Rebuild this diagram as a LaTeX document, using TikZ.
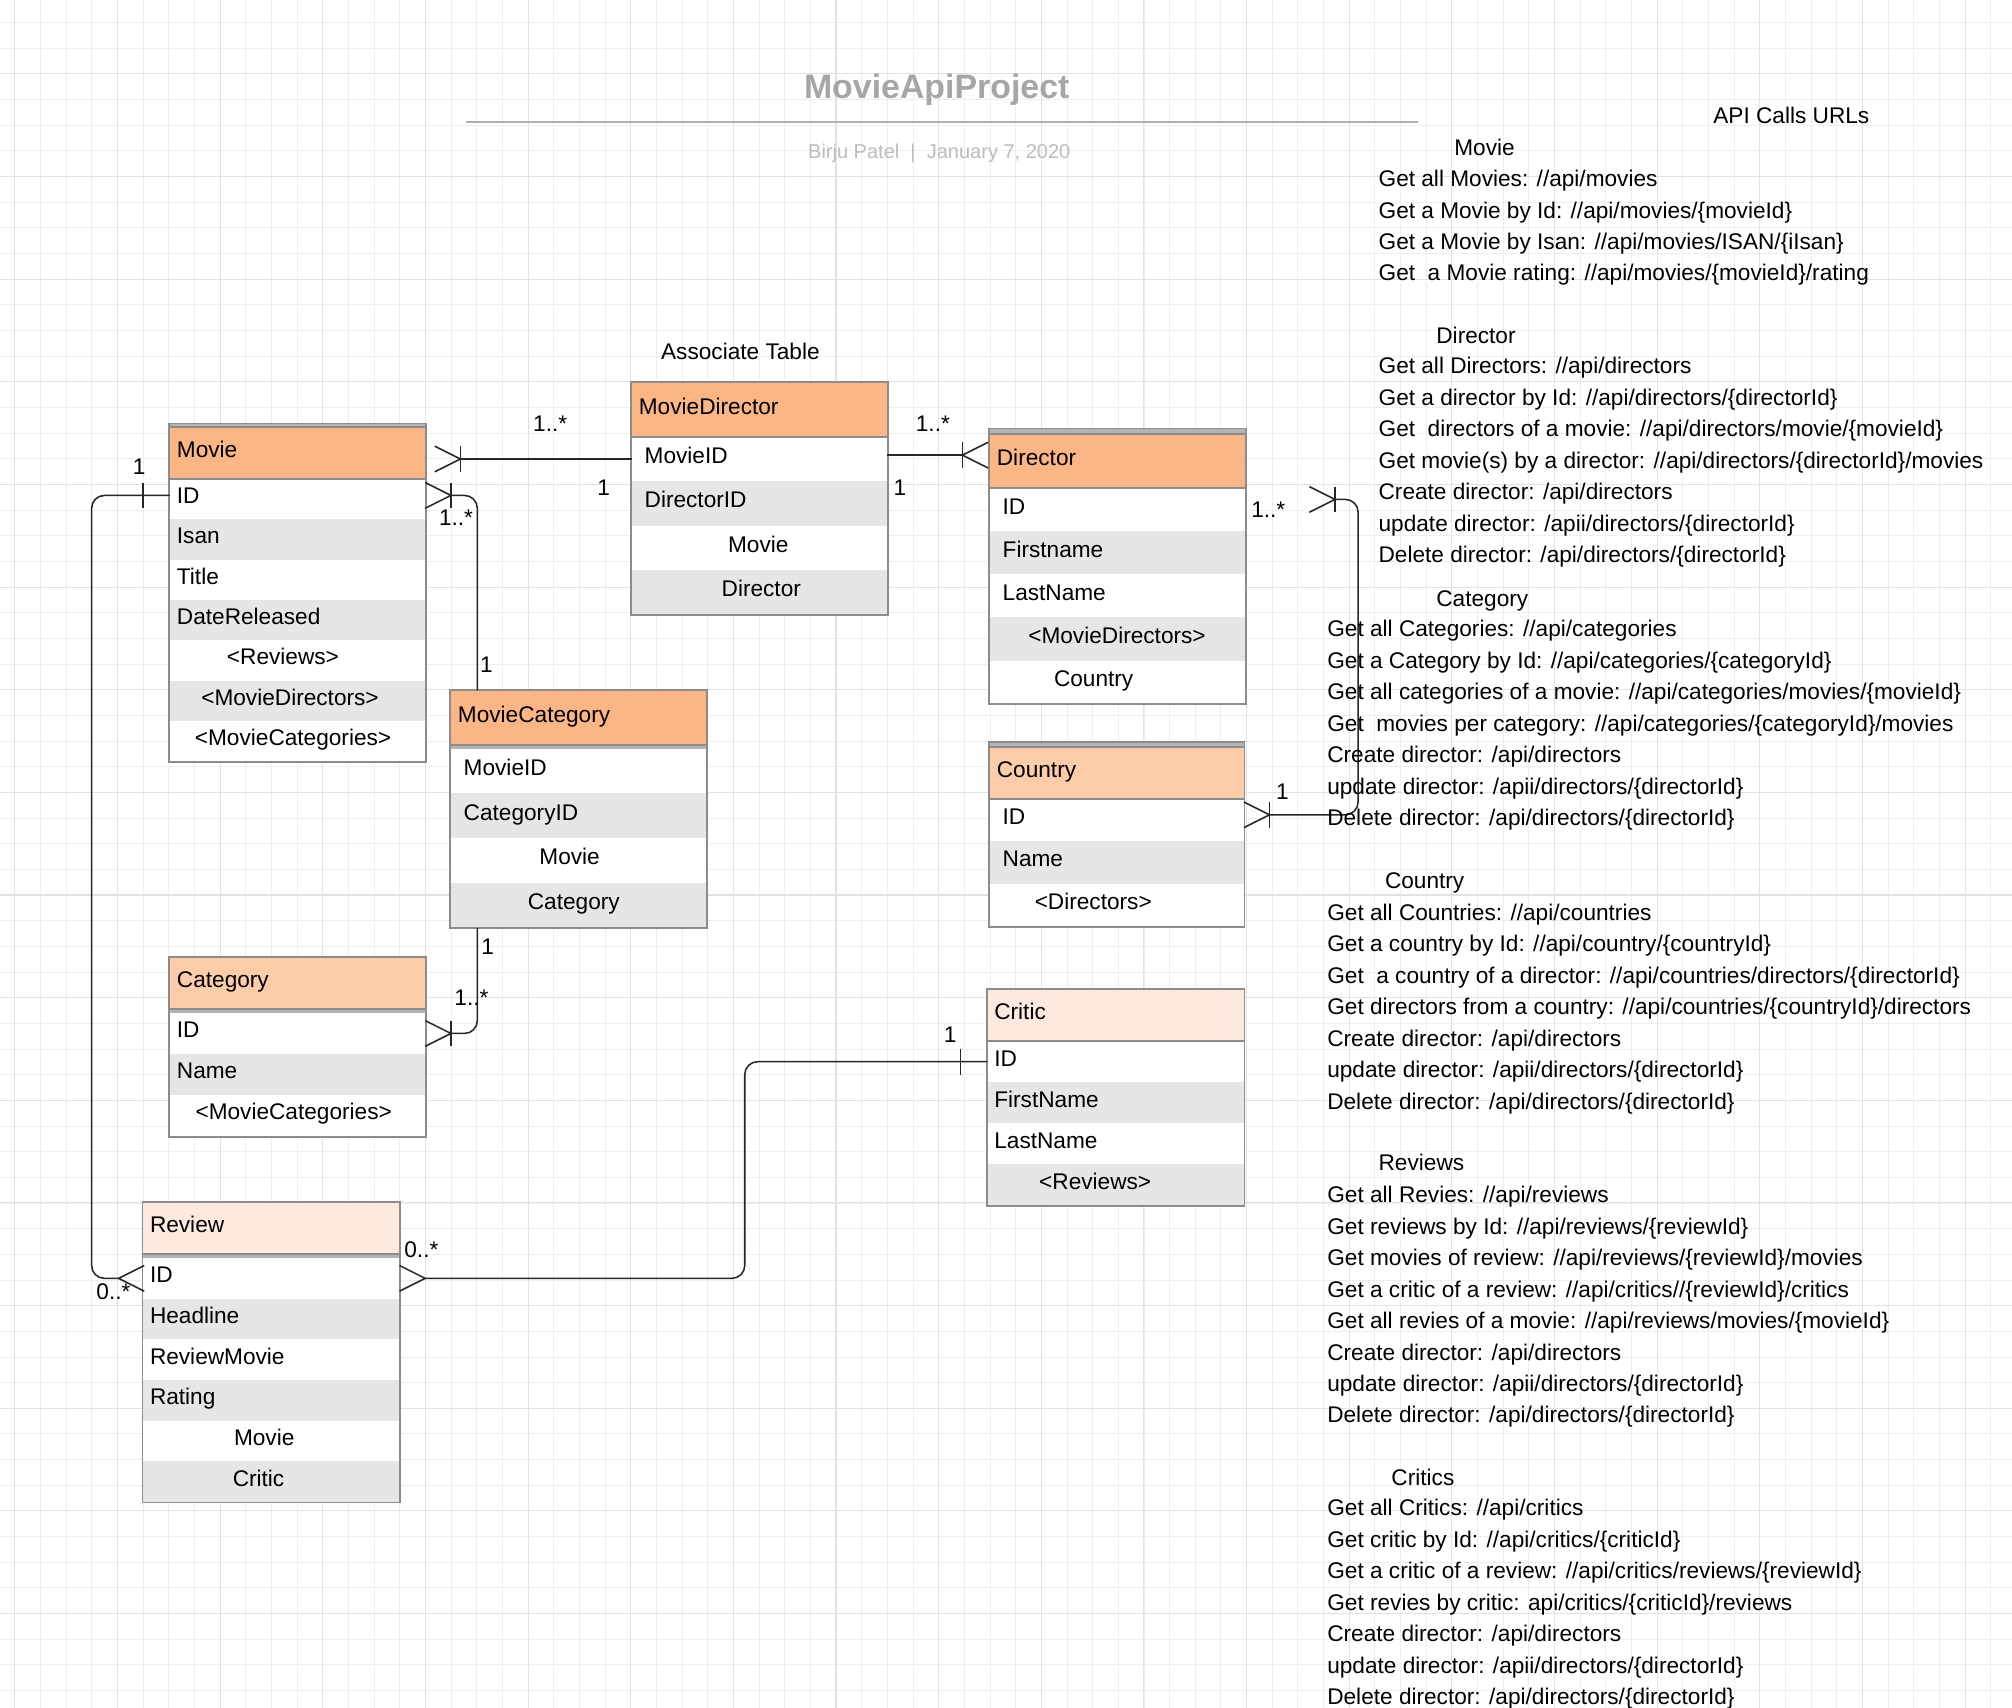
\documentclass[tikz,border=0pt]{standalone}
\usepackage{fontspec}
\setmainfont{Liberation Sans}
\usetikzlibrary{matrix, positioning, calc}
\definecolor{hdrA}{HTML}{FCB584}
\definecolor{hdrB}{HTML}{FDCCA8}
\definecolor{hdrC}{HTML}{FDE9DD}
\definecolor{rowgray}{HTML}{E6E6E6}
\definecolor{boxgray}{HTML}{8C8C8C}
\definecolor{bandgray}{HTML}{B4B4B4}
\definecolor{gridminor}{HTML}{EEEEEE}
\definecolor{gridmajor}{HTML}{E2E2E2}
\definecolor{titlegray}{HTML}{A6A6A6}
\definecolor{bylinegray}{HTML}{BDBDBD}
\newcommand{\colpad}[1]{\hspace*{#1pt}}
\tikzset{%
  grid minor/.style={draw=gridminor, line width=0.35pt},
  grid major/.style={draw=gridmajor, line width=0.4pt},
  edge/.style={draw=black!85, line width=0.6pt},
  link/.style={edge, rounded corners=5pt},
  boxline/.style={draw=boxgray, line width=0.7pt},
  api/.style={anchor=west, inner sep=0pt, text height=6.4pt, text depth=0pt},
  card/.style={api, anchor=center},
  titletext/.style={inner sep=0pt, text=titlegray, text height=9.5pt, text depth=0pt, font=\fontsize{13.2}{16}\selectfont\bfseries},
  byline/.style={inner sep=0pt, text=bylinegray, text height=5.6pt, text depth=0pt, font=\fontsize{7.8}{9}\selectfont},
  titlerule/.style={draw=titlegray!90, line width=1pt},
  table nodes/.style={
    rectangle,
    fill=white,
    align=left,
    text height=6.4pt,
    text depth=3pt,
    inner xsep=2.75pt,
    inner ysep=0pt,
    outer sep=0pt
  },
  table/.style={
    matrix of nodes,
    row sep=0pt,
    column sep=0pt,
    inner sep=0pt,
    fill=bandgray,
    anchor=north west,
    row 3/.style={nodes={fill=rowgray}},
    row 5/.style={nodes={fill=rowgray}},
    row 7/.style={nodes={fill=rowgray}},
    nodes={table nodes}
  },
  table head/.style 2 args={row 1/.style={nodes={fill=#1, minimum height=#2}}},
  many/.pic={\draw[edge] (-20,-10) -- (0,0) -- (-20,10);},
  one/.pic={\draw[edge] (0,-10) -- (0,10);}
}
\begin{document}
\begin{tikzpicture}[x=0.5pt, y=-0.5pt, font=\fontsize{8.82}{11}\selectfont]
  \useasboundingbox (0,0) rectangle (1568,1331);
  \fill[white] (0,0) rectangle (1568,1331);

  % background grid
  \foreach \gx in {11.5,31.5,...,1568} \draw[grid minor] (\gx,0) -- (\gx,1331);
  \foreach \gy in {17.5,37.5,...,1331} \draw[grid minor] (0,\gy) -- (1568,\gy);
  \foreach \gx in {11.5,91.5,...,1568} \draw[grid major] (\gx,0) -- (\gx,1331);
  \foreach \gy in {57.5,137.5,...,1331} \draw[grid major] (0,\gy) -- (1568,\gy);

  % title block
  \node[titletext] (title) at (730,67) {MovieApiProject};
  \draw[titlerule] (363,95) -- (1105,95);
  \node[byline] (byline) at (732,118) {Birju Patel\ \ |\ \ January 7, 2020};

  \node[card] (assoc) at (577,274) {Associate Table};

  % entities
  \matrix[table, table head={hdrA}{20pt}, nodes={text width=94pt, minimum height=15.7pt}] (movie) at (132,333) {
    Movie \\
    ID \\
    Isan \\
    Title \\
    DateReleased \\
    \colpad{19.5}<Reviews> \\
    \colpad{9.5}<MovieDirectors> \\
    \colpad{7}<MovieCategories> \\
  };

  \matrix[table, table head={hdrA}{21pt}, nodes={text width=94pt, minimum height=17.3pt}] (mdir) at (492,298) {
    MovieDirector \\
    \colpad{2.25}MovieID \\
    \colpad{2.25}DirectorID \\
    \colpad{34.75}Movie \\
    \colpad{32.25}Director \\
  };

  \matrix[table, table head={hdrA}{21pt}, nodes={text width=94pt, minimum height=16.8pt}] (dir) at (771,338) {
    Director \\
    \colpad{2.25}ID \\
    \colpad{2.25}Firstname \\
    \colpad{2.25}LastName \\
    \colpad{12.25}<MovieDirectors> \\
    \colpad{22.25}Country \\
  };

  \matrix[table, table head={hdrA}{21pt}, nodes={text width=94pt, minimum height=17.45pt}] (mcat) at (351,538) {
    MovieCategory \\[1.5pt]
    \colpad{2.25}MovieID \\
    \colpad{2.25}CategoryID \\
    \colpad{31.75}Movie \\
    \colpad{27.25}Category \\
  };

  \matrix[table, table head={hdrB}{20pt}, nodes={text width=94pt, minimum height=16pt}] (cat) at (132,746) {
    Category \\[1.5pt]
    ID \\
    Name \\
    \colpad{7.25}<MovieCategories> \\
  };

  \matrix[table, table head={hdrB}{20pt}, nodes={text width=93.5pt, minimum height=16.6pt}] (ctry) at (771,582) {
    Country \\
    \colpad{2.25}ID \\
    \colpad{2.25}Name \\
    \colpad{14.75}<Directors> \\
  };

  \matrix[table, table head={hdrC}{20pt}, nodes={text width=94.5pt, minimum height=16pt}] (crit) at (769,771) {
    Critic \\
    ID \\
    FirstName \\
    LastName \\
    \colpad{17.5}<Reviews> \\
  };

  \matrix[table, table head={hdrC}{20pt}, nodes={text width=94.5pt, minimum height=15.85pt}] (rev) at (111,937) {
    Review \\[1.5pt]
    ID \\
    Headline \\
    ReviewMovie \\
    Rating \\
    \colpad{32.75}Movie \\
    \colpad{32.25}Critic \\
  };

  % outlines and header edges
  \foreach \tbl in {movie,mdir,dir,mcat,cat,ctry,crit,rev} {
    \draw[boxline] (\tbl.north west) rectangle (\tbl.south east);
    \draw[boxline] (\tbl-1-1.south west) -- (\tbl-1-1.south east);
  }
  \draw[boxline, fill=bandgray] ($(movie.north west)+(0,-3)$) rectangle (movie.north east);
  \draw[boxline, fill=bandgray] ($(dir.north west)+(0,-4)$) rectangle (dir.north east);
  \draw[boxline, fill=bandgray] ($(ctry.north west)+(0,-4)$) rectangle (ctry.north east);

  % Movie -- MovieDirector
  \coordinate (f1) at ($(movie.east |- mdir-2-1.west)+(27,0)$);
  \draw[edge] (f1) -- (mdir-2-1.west);
  \pic at (f1) {many};
  \pic at (f1) {one};
  \node[card] (c1a) at ($(f1)+(70,-28)$) {1..*};
  \node[card] (c1b) at ($(mdir-2-1.west)+(-22,22)$) {1};

  % MovieDirector -- Director
  \coordinate (f2) at ($(dir.west |- mdir-2-1.east)+(-21,-3)$);
  \draw[edge] ($(mdir-2-1.east)+(0,-3)$) -- (f2);
  \pic[rotate=180] at (f2) {many};
  \pic at (f2) {one};
  \node[card] (c2a) at ($(f2)+(-23,-25)$) {1..*};
  \node[card] (c2b) at ($(mdir-2-1.east)+(10,22)$) {1};

  % Movie -- MovieCategory
  \coordinate (f3) at ($(movie-2-1.east)+(20,-3)$);
  \coordinate (v1) at ($(mcat.north west)+(21,0)$);
  \draw[link] (f3) -| (v1);
  \pic at (f3) {many};
  \pic at (f3) {one};
  \node[card] (c3a) at ($(f3)+(4,17)$) {1..*};
  \node[card] (c3b) at ($(v1)+(7,-20)$) {1};

  % MovieCategory -- Category
  \coordinate (f4) at ($(cat-2-1.east)+(20,0)$);
  \draw[link] (v1 |- mcat.south) |- (f4);
  \pic at (f4) {many};
  \pic at (f4) {one};
  \node[card] (c4a) at ($(v1 |- mcat.south)+(8,14)$) {1};
  \node[card] (c4b) at ($(f4)+(16,-28)$) {1..*};

  % Director -- Country
  \coordinate (f5) at ($(dir-2-1.east)+(70,-8)$);
  \coordinate (f6) at ($(ctry-2-1.east)+(20,-4)$);
  \draw[link] (f5) -- ++(18,0) |- (f6);
  \pic at (f5) {many};
  \pic at (f5) {one};
  \pic at (f6) {many};
  \pic at (f6) {one};
  \node[card] (c5a) at ($(f5)+(-52,8)$) {1..*};
  \node[card] (c5b) at ($(f6)+(10,-18)$) {1};

  % Movie -- Review
  \coordinate (b7) at ($(movie-2-1.west)+(-21,-3)$);
  \coordinate (f7) at ($(rev-2-1.west)+(-19,0)$);
  \draw[link] ($(movie-2-1.west)+(0,-3)$) -- ++(-61,0) |- (f7);
  \pic at (b7) {one};
  \pic[rotate=180] at (f7) {many};
  \node[card] (c6a) at ($(b7)+(-3,-23)$) {1};
  \node[card] (c6b) at ($(f7)+(-4,10)$) {0..*};

  % Review -- Critic
  \coordinate (f8) at ($(rev-2-1.east)+(20,0)$);
  \coordinate (b8) at ($(crit-2-1.west)+(-21,0)$);
  \draw[link] (f8) -- ++(249,0) |- (crit-2-1.west);
  \pic at (f8) {many};
  \pic at (b8) {one};
  \node[card] (c7a) at ($(f8)+(-3,-23)$) {0..*};
  \node[card] (c7b) at ($(b8)+(-8,-21)$) {1};

  % API calls
  \node[card] (apihead) at (1396,90) {API Calls URLs};

  \node[api] (hmovie) at (1133,115) {Movie};
  \foreach \txt [count=\i] in {
      {Get all Movies: //api/movies},
      {Get a Movie by Id: //api/movies/\{movieId\}},
      {Get a Movie by Isan: //api/movies/ISAN/\{iIsan\}},
      {Get\ \ a Movie rating: //api/movies/\{movieId\}/rating}}
    \node[api] (amovie\i) at (1074,{139+(\i-1)*24.5}) {\txt};

  \node[api] (hdir) at (1119,261) {Director};
  \foreach \txt [count=\i] in {
      {Get all Directors: //api/directors},
      {Get a director by Id: //api/directors/\{directorId\}},
      {Get\ \ directors of a movie: //api/directors/movie/\{movieId\}},
      {Get movie(s) by a director: //api/directors/\{directorId\}/movies},
      {Create director: /api/directors},
      {update director: /apii/directors/\{directorId\}},
      {Delete director: /api/directors/\{directorId\}}}
    \node[api] (adir\i) at (1074,{285+(\i-1)*24.5}) {\txt};

  \node[api] (hcat) at (1119,466) {Category};
  \foreach \txt [count=\i] in {
      {Get all Categories: //api/categories},
      {Get a Category by Id: //api/categories/\{categoryId\}},
      {Get all categories of a movie: //api/categories/movies/\{movieId\}},
      {Get\ \ movies per category: //api/categories/\{categoryId\}/movies},
      {Create director: /api/directors},
      {update director: /apii/directors/\{directorId\}},
      {Delete director: /api/directors/\{directorId\}}}
    \node[api] (acat\i) at (1034,{490+(\i-1)*24.5}) {\txt};

  \node[api] (hctry) at (1079,686) {Country};
  \foreach \txt [count=\i] in {
      {Get all Countries: //api/countries},
      {Get a country by Id: //api/country/\{countryId\}},
      {Get\ \ a country of a director: //api/countries/directors/\{directorId\}},
      {Get directors from a country: //api/countries/\{countryId\}/directors},
      {Create director: /api/directors},
      {update director: /apii/directors/\{directorId\}},
      {Delete director: /api/directors/\{directorId\}}}
    \node[api] (actry\i) at (1034,{711+(\i-1)*24.5}) {\txt};

  \node[api] (hrev) at (1074,906) {Reviews};
  \foreach \txt [count=\i] in {
      {Get all Revies: //api/reviews},
      {Get reviews by Id: //api/reviews/\{reviewId\}},
      {Get movies of review: //api/reviews/\{reviewId\}/movies},
      {Get a critic of a review: //api/critics//\{reviewId\}/critics},
      {Get all revies of a movie: //api/reviews/movies/\{movieId\}},
      {Create director: /api/directors},
      {update director: /apii/directors/\{directorId\}},
      {Delete director: /api/directors/\{directorId\}}}
    \node[api] (arev\i) at (1034,{931+(\i-1)*24.5}) {\txt};

  \node[api] (hcrit) at (1084,1151) {Critics};
  \foreach \txt [count=\i] in {
      {Get all Critics: //api/critics},
      {Get critic by Id: //api/critics/\{criticId\}},
      {Get a critic of a review: //api/critics/reviews/\{reviewId\}},
      {Get revies by critic: api/critics/\{criticId\}/reviews},
      {Create director: /api/directors},
      {update director: /apii/directors/\{directorId\}},
      {Delete director: /api/directors/\{directorId\}}}
    \node[api] (acrit\i) at (1034,{1175+(\i-1)*24.5}) {\txt};
\end{tikzpicture}
\end{document}
